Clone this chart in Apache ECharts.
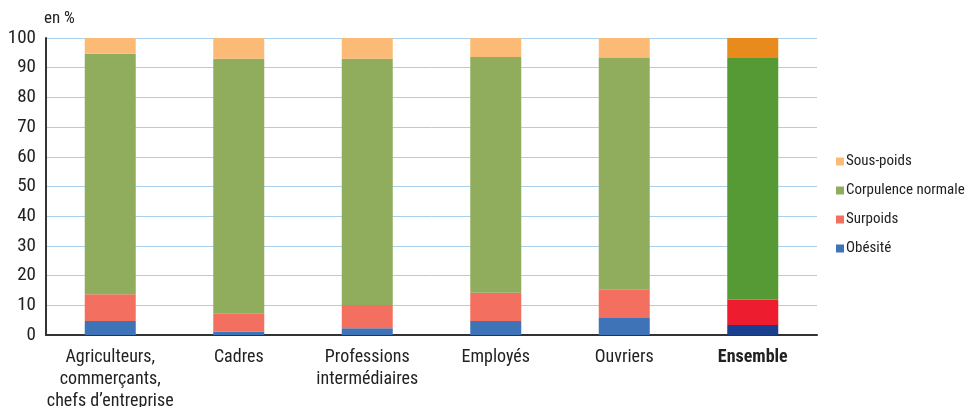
<!DOCTYPE html>
<html>
<head>
<meta charset="utf-8">
<script src="https://cdn.jsdelivr.net/npm/echarts@6/dist/echarts.min.js"></script>
<style>
  html, body { margin: 0; padding: 0; background: #fff; }
  #main { width: 968px; height: 407px; }
</style>
</head>
<body>
<div id="main"></div>
<script>
var categories = ['Agriculteurs,\ncommerçants,\nchefs d\u2019entreprise', 'Cadres', 'Professions\nintermédiaires', 'Employés', 'Ouvriers', 'Ensemble']
var obesite = [4.7, 1.1, 2.3, 4.7, 5.7, 3.4]
var surpoids = [9.0, 6.2, 7.8, 9.5, 9.7, 8.5]
var normale = [81.0, 85.7, 82.9, 79.4, 77.9, 81.4]
var sousPoids = [5.3, 7.0, 7.0, 6.4, 6.7, 6.7]

var font = '"Liberation Sans Narrow", "Roboto Condensed", sans-serif'

// couleurs : catégories puis "Ensemble" plus foncé
var colors = {
    'Obésité': ['#3f73b8', '#1b3f8f'],
    'Surpoids': ['#f37061', '#ed1c2e'],
    'Corpulence normale': ['#8fad5c', '#569a35'],
    'Sous-poids': ['#fbbb77', '#e98b1c']
}

function makeSeries(name, values) {
    return {
        name: name,
        type: 'bar',
        stack: 'total',
        barWidth: 51,
        itemStyle: { color: colors[name][0] },
        data: values.map(function (v, i) {
            if (i === values.length - 1) {
                return { value: v, itemStyle: { color: colors[name][1] } }
            }
            return v
        })
    }
}

var myChart = echarts.init(document.getElementById('main'))
myChart.setOption({
    animation: false,
    textStyle: { fontFamily: font },
    grid: { left: 46, right: 151, top: 38, bottom: 72, outerBoundsMode: 'none', containLabel: false },
    legend: {
        orient: 'vertical',
        left: 831,
        top: 149,
        itemWidth: 8,
        itemHeight: 8,
        itemGap: 14,
        icon: 'rect',
        data: ['Sous-poids', 'Corpulence normale', 'Surpoids', 'Obésité'],
        textStyle: { fontFamily: font, fontSize: 15, color: '#222', padding: [0, 0, 0, -3] }
    },
    xAxis: {
        type: 'category',
        data: categories,
        axisTick: { show: false },
        axisLine: { lineStyle: { color: '#333', width: 2 } },
        axisLabel: {
            interval: 0,
            color: '#222',
            fontSize: 18,
            lineHeight: 22,
            margin: 11,
            fontFamily: font,
            formatter: function (v) {
                return v === 'Ensemble' ? '{b|' + v + '}' : v
            },
            rich: { b: { fontWeight: 'bold', fontSize: 18, fontFamily: font, color: '#222' } }
        }
    },
    yAxis: {
        type: 'value',
        min: 0,
        max: 100,
        interval: 10,
        name: 'en %',
        nameGap: 11,
        nameTextStyle: { color: '#222', fontSize: 17, fontFamily: font, align: 'left', padding: [0, 0, 0, -2] },
        axisLine: { show: true, lineStyle: { color: '#333', width: 2 } },
        axisTick: { show: false },
        axisLabel: { color: '#222', fontSize: 19, fontFamily: font, margin: 10 },
        splitLine: { lineStyle: { color: '#a9cfea', width: 1 } }
    },
    series: [
        makeSeries('Obésité', obesite),
        makeSeries('Surpoids', surpoids),
        makeSeries('Corpulence normale', normale),
        makeSeries('Sous-poids', sousPoids)
    ]
})
</script>
</body>
</html>
